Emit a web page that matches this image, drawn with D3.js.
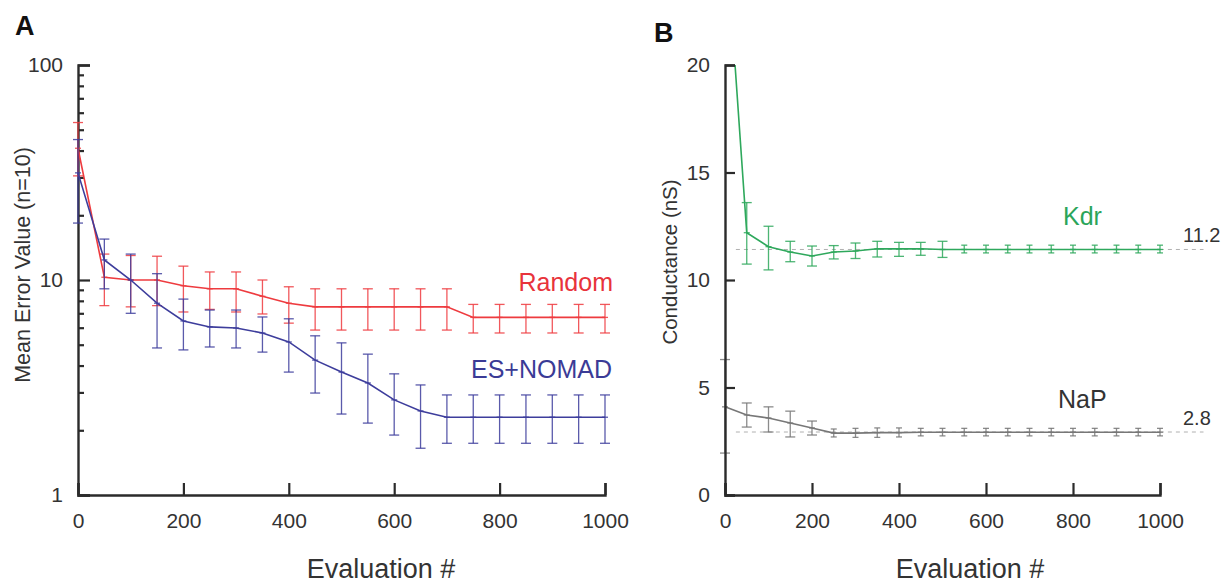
<!DOCTYPE html>
<html>
<head>
<meta charset="utf-8">
<script src="https://cdn.jsdelivr.net/npm/d3@7"></script>
<style>
  body { margin: 0; background: #fff; }
  svg text { font-family: "Liberation Sans", Arial, sans-serif; }
</style>
</head>
<body>
<div id="chart"></div>
<script>
// evaluation numbers (x) shared by every series
const evals = [0, 50, 100, 150, 200, 250, 300, 350, 400, 450, 500,
  550, 600, 650, 700, 750, 800, 850, 900, 950, 1000];

// panel A: mean error value (log scale)
const randomMean = [41, 10.3, 10.0, 10.0, 9.4, 9.1, 9.1, 8.4, 7.8, 7.5, 7.5,
  7.5, 7.5, 7.5, 7.5, 6.7, 6.7, 6.7, 6.7, 6.7, 6.7];
const randomHi = [54, 13.2, 13.0, 12.9, 11.6, 10.9, 10.9, 10.0, 9.3, 9.1, 9.1,
  9.1, 9.1, 9.1, 9.1, 7.7, 7.7, 7.7, 7.7, 7.7, 7.7];
const randomLo = [30.5, 7.6, 7.5, 7.6, 7.1, 7.3, 7.1, 6.95, 6.3, 5.85, 5.85,
  5.85, 5.85, 5.85, 5.85, 5.67, 5.67, 5.67, 5.67, 5.67, 5.67];

const nomadMean = [31.5, 12.4, 10.0, 7.8, 6.45, 6.05, 5.98, 5.67, 5.15, 4.24, 3.73,
  3.32, 2.77, 2.46, 2.3, 2.3, 2.3, 2.3, 2.3, 2.3, 2.3];
const nomadHi = [45, 15.5, 13.2, 10.7, 8.15, 7.25, 7.25, 6.73, 6.6, 5.5, 5.1,
  4.52, 3.66, 3.25, 2.92, 2.92, 2.92, 2.92, 2.92, 2.92, 2.92];
const nomadLo = [18.4, 9.1, 7.0, 4.83, 4.73, 4.88, 4.83, 4.62, 3.73, 2.98, 2.38,
  2.16, 1.9, 1.65, 1.74, 1.74, 1.74, 1.74, 1.74, 1.74, 1.74];

// panel B: conductance (nS)
const kdrMean = [26.7, 12.2, 11.55, 11.3, 11.12, 11.3, 11.35, 11.45, 11.45, 11.45, 11.42,
  11.42, 11.42, 11.42, 11.42, 11.42, 11.42, 11.42, 11.42, 11.42, 11.42];
const kdrHi = [26.7, 13.6, 12.5, 11.8, 11.58, 11.6, 11.72, 11.8, 11.75, 11.75, 11.8,
  11.62, 11.62, 11.62, 11.62, 11.62, 11.62, 11.62, 11.62, 11.62, 11.62];
const kdrLo = [26.7, 10.74, 10.47, 10.85, 10.65, 10.98, 11.0, 11.07, 11.1, 11.15, 11.05,
  11.26, 11.26, 11.26, 11.26, 11.26, 11.26, 11.26, 11.26, 11.26, 11.26];

const napMean = [4.1, 3.72, 3.58, 3.35, 3.12, 2.88, 2.88, 2.9, 2.9, 2.92, 2.92,
  2.92, 2.92, 2.92, 2.92, 2.92, 2.92, 2.92, 2.92, 2.92, 2.92];
const napHi = [6.3, 4.28, 4.1, 3.9, 3.44, 3.07, 3.1, 3.12, 3.12, 3.1, 3.1,
  3.1, 3.1, 3.1, 3.1, 3.1, 3.1, 3.1, 3.1, 3.1, 3.1];
const napLo = [1.95, 3.16, 2.93, 2.7, 2.79, 2.7, 2.68, 2.68, 2.7, 2.75, 2.75,
  2.75, 2.75, 2.75, 2.75, 2.75, 2.75, 2.75, 2.75, 2.75, 2.75];

// dashed target lines in panel B (drawn value, printed label)
const targetValues = [11.42, 2.93];
const targetLabels = ["11.2", "2.8"];

const xTicks = [0, 200, 400, 600, 800, 1000];
const yTicksA = [1, 10, 100];
const yTicksB = [0, 5, 10, 15, 20];

const axisColor = "#2b2b2b";
const width = 1232, height = 586;

const svg = d3.select("#chart").append("svg")
  .attr("width", width).attr("height", height);

function zip(means, his, los) {
  return evals.map((e, i) => ({ x: e, m: means[i], hi: his[i], lo: los[i] }));
}

// capW: width of caps, narrower when the bar is very short
function drawSeries(g, x, y, data, color, capW) {
  const cw = d => (y(d.lo) - y(d.hi) < 12 ? capW * 0.6 : capW);
  g.append("path").datum(data)
    .attr("fill", "none").attr("stroke", color).attr("stroke-width", 1.6)
    .attr("d", d3.line().x(d => x(d.x)).y(d => y(d.m)));
  const bars = g.append("g").attr("stroke", color).attr("stroke-width", 1.3)
    .attr("stroke-opacity", 0.85);
  const eb = bars.selectAll("g").data(data).join("g");
  eb.append("line").attr("x1", d => x(d.x)).attr("x2", d => x(d.x))
    .attr("y1", d => y(d.hi)).attr("y2", d => y(d.lo));
  eb.append("line").attr("x1", d => x(d.x) - cw(d) / 2).attr("x2", d => x(d.x) + cw(d) / 2)
    .attr("y1", d => y(d.hi)).attr("y2", d => y(d.hi));
  eb.append("line").attr("x1", d => x(d.x) - cw(d) / 2).attr("x2", d => x(d.x) + cw(d) / 2)
    .attr("y1", d => y(d.lo)).attr("y2", d => y(d.lo));
  eb.append("line").attr("x1", d => x(d.x) - 3).attr("x2", d => x(d.x) + 3)
    .attr("y1", d => y(d.m)).attr("y2", d => y(d.m));
}

function styleAxis(g) {
  g.select(".domain").attr("stroke", axisColor).attr("stroke-width", 2.4);
  g.selectAll(".tick line").attr("stroke", axisColor).attr("stroke-width", 2.2);
  g.selectAll(".tick text").attr("fill", "#333").style("font-size", "21px");
}

// ---------------- panel A ----------------
const xA = d3.scaleLinear().domain([0, 1000]).range([78, 605]);
const yA = d3.scaleLog().domain([1, 100]).range([495, 65]);

const minorA = [];
[1, 10].forEach(b => { for (let k = 2; k <= 9; k++) minorA.push(b * k); });

svg.append("g").attr("transform", `translate(${xA(0)},0)`)
  .call(d3.axisLeft(yA).tickValues(minorA).tickSize(-6).tickFormat(""))
  .call(g => g.select(".domain").remove())
  .call(styleAxis);

svg.append("g").attr("transform", `translate(${xA(0)},0)`)
  .call(d3.axisLeft(yA).tickValues(yTicksA).tickSize(-12).tickPadding(15)
    .tickFormat(d3.format("d")))
  .call(styleAxis);

svg.append("g").attr("transform", `translate(0,${yA(1)})`)
  .call(d3.axisBottom(xA).tickValues(xTicks).tickSize(-12).tickPadding(18)
    .tickFormat(d3.format("d")))
  .call(styleAxis);

const plotA = svg.append("g");
drawSeries(plotA, xA, yA, zip(randomMean, randomHi, randomLo), "#ee3b3f", 10);
drawSeries(plotA, xA, yA, zip(nomadMean, nomadHi, nomadLo), "#3d3d9c", 10);

svg.append("text").attr("x", 613).attr("y", 291).attr("text-anchor", "end")
  .attr("fill", "#e8333b").style("font-size", "25px").text("Random");
svg.append("text").attr("x", 612).attr("y", 378).attr("text-anchor", "end")
  .attr("fill", "#3b3b96").style("font-size", "25px").text("ES+NOMAD");

svg.append("text").attr("transform", "translate(30,265) rotate(-90)")
  .attr("text-anchor", "middle").attr("fill", "#333").style("font-size", "21.5px")
  .text("Mean Error Value (n=10)");
svg.append("text").attr("x", 381).attr("y", 578).attr("text-anchor", "middle")
  .attr("fill", "#333").style("font-size", "27px").text("Evaluation #");
svg.append("text").attr("x", 15).attr("y", 35).attr("fill", "#111")
  .style("font-size", "27px").style("font-weight", "bold").text("A");

// ---------------- panel B ----------------
const xB = d3.scaleLinear().domain([0, 1000]).range([725, 1160]);
const yB = d3.scaleLinear().domain([0, 20]).range([495, 65]);

svg.append("clipPath").attr("id", "clipB").append("rect")
  .attr("x", xB(0)).attr("y", yB(20)).attr("width", 520).attr("height", yB(0) - yB(20));

const plotB = svg.append("g");
plotB.selectAll("line.target").data(targetValues).join("line")
  .attr("class", "target")
  .attr("x1", xB(25)).attr("x2", xB(1100))
  .attr("y1", d => yB(d)).attr("y2", d => yB(d))
  .attr("stroke", "#b0b0b0").attr("stroke-width", 1).attr("stroke-dasharray", "4,4");

const clipped = plotB.append("g").attr("clip-path", "url(#clipB)");
drawSeries(clipped, xB, yB, zip(kdrMean, kdrHi, kdrLo), "#2ea85c", 10);
drawSeries(plotB, xB, yB, zip(napMean, napHi, napLo), "#777777", 10);

svg.append("g").attr("transform", `translate(${xB(0)},0)`)
  .call(d3.axisLeft(yB).tickValues(yTicksB).tickSize(-10).tickPadding(15))
  .call(styleAxis);
svg.append("g").attr("transform", `translate(0,${yB(0)})`)
  .call(d3.axisBottom(xB).tickValues(xTicks).tickSize(-12).tickPadding(18)
    .tickFormat(d3.format("d")))
  .call(styleAxis);

svg.selectAll("text.target").data(targetValues).join("text")
  .attr("class", "target")
  .attr("x", 1183).attr("y", d => yB(d) - 7)
  .attr("fill", "#333").style("font-size", "20px")
  .text((d, i) => targetLabels[i]);

svg.append("text").attr("x", 1063).attr("y", 225)
  .attr("fill", "#2aa55a").style("font-size", "25px").text("Kdr");
svg.append("text").attr("x", 1058).attr("y", 408)
  .attr("fill", "#333").style("font-size", "25px").text("NaP");

svg.append("text").attr("transform", "translate(677,262) rotate(-90)")
  .attr("text-anchor", "middle").attr("fill", "#333").style("font-size", "20.5px")
  .text("Conductance (nS)");
svg.append("text").attr("x", 970).attr("y", 578).attr("text-anchor", "middle")
  .attr("fill", "#333").style("font-size", "27px").text("Evaluation #");
svg.append("text").attr("x", 654).attr("y", 42).attr("fill", "#111")
  .style("font-size", "27px").style("font-weight", "bold").text("B");
</script>
</body>
</html>
